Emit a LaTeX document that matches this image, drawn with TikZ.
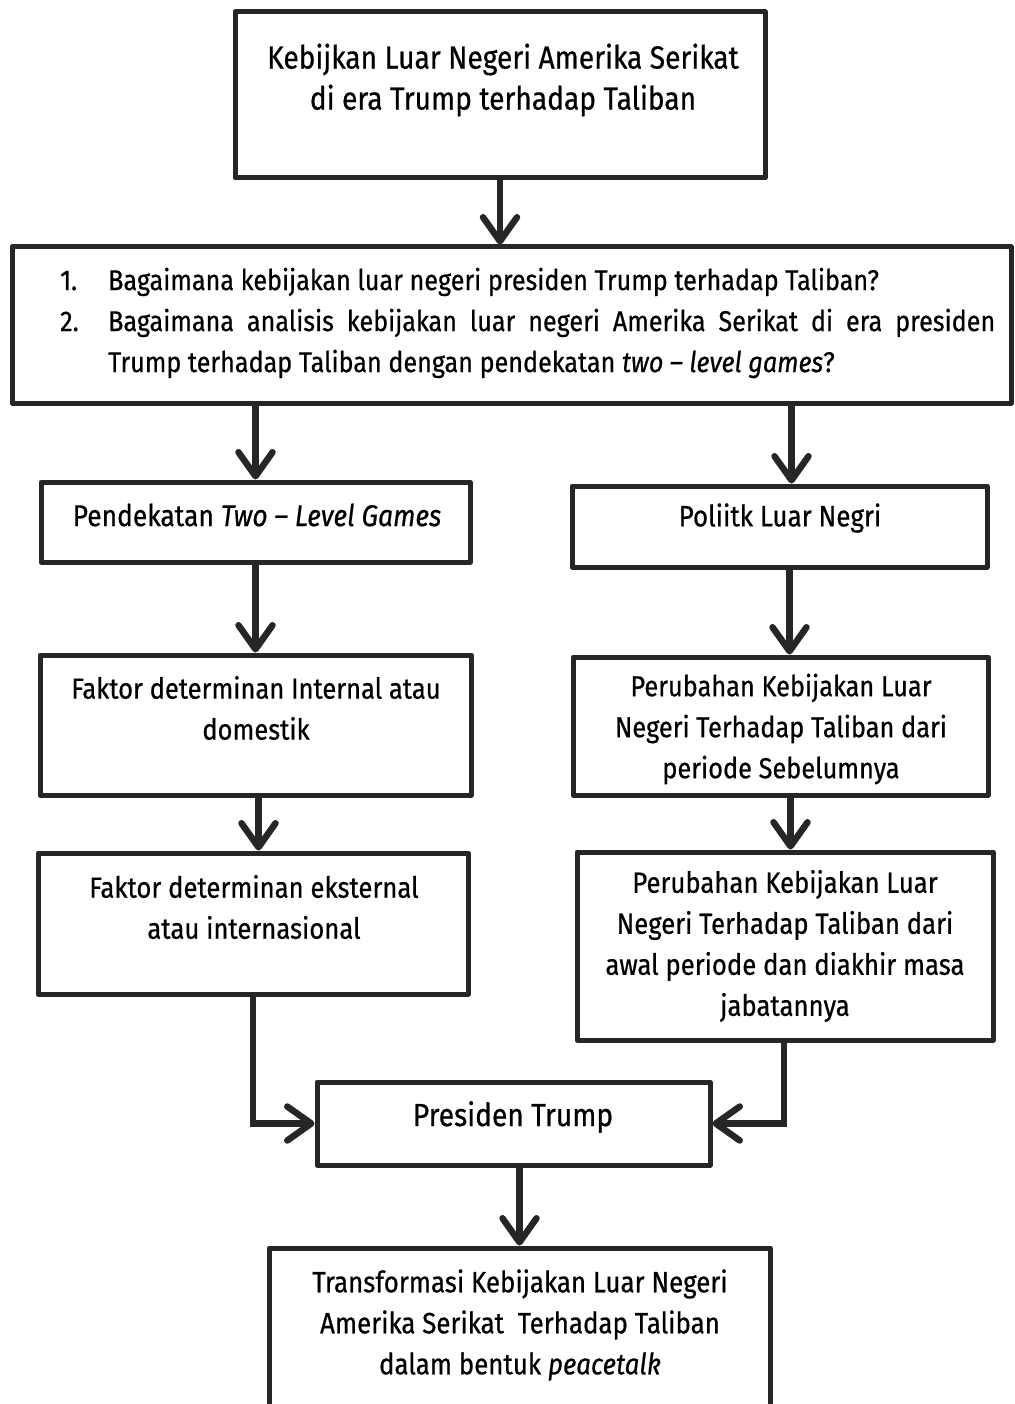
\documentclass[tikz,border=0pt]{standalone}
\usepackage{fontspec}
\setmainfont{Fira Sans}[FakeStretch=0.88,FakeBold=0.6]
\usetikzlibrary{arrows.meta}
\definecolor{lc}{HTML}{262626}
\newcommand{\fsz}[1]{\fontsize{#1}{41}\selectfont}
\tikzset{
  box/.style={draw=lc, line width=5pt, line join=round, inner sep=0pt, fill=white},
  txt/.style={align=center, font=\fsz{30}, inner sep=0pt, text=black},
  arr/.style={draw=lc, line width=6.5pt, -{Straight Barb[length=24pt,width=34pt,round]}},
}
\begin{document}
\begin{tikzpicture}[x=1pt,y=-1pt]
\useasboundingbox[fill=white] (0,0) rectangle (1014,1404);
% boxes
\node[box, minimum width=530pt, minimum height=166pt] (b1) at (500,95) {};
\node[box, minimum width=999pt, minimum height=156pt] (b2) at (511.5,325) {};
\node[box, minimum width=429pt, minimum height=80pt] (b3) at (255.5,522) {};
\node[box, minimum width=415pt, minimum height=81pt] (b4) at (779.5,526.5) {};
\node[box, minimum width=431pt, minimum height=140pt] (b5) at (255.5,725) {};
\node[box, minimum width=415pt, minimum height=138pt] (b6) at (780.5,726) {};
\node[box, minimum width=430pt, minimum height=141pt] (b7) at (253,923.5) {};
\node[box, minimum width=416pt, minimum height=188pt] (b8) at (785,946) {};
\node[box, minimum width=393pt, minimum height=83pt] (b9) at (513.5,1123.5) {};
\node[box, minimum width=501pt, minimum height=180pt] (b10) at (519.5,1338) {};
% texts
\node[txt, font=\fsz{32}] (t1) at (503,80) {Kebijkan Luar Negeri Amerika Serikat\\di era Trump terhadap Taliban};
\node[txt, font=\fsz{28.6}, anchor=west, text width=935pt, align=justify] (t2) at (60,323) {%
\noindent\makebox[48pt][l]{1.}Bagaimana kebijakan luar negeri presiden Trump terhadap Taliban?\par
\hangindent=48pt\hangafter=1\noindent\makebox[48pt][l]{2.}Bagaimana analisis kebijakan luar negeri Amerika Serikat di era presiden\linebreak Trump terhadap Taliban dengan pendekatan \textit{two – level games}?\par};
\node[txt] (t3) at (257,515) {Pendekatan \textit{Two – Level Games}};
\node[txt, font=\fsz{29.5}] (t4) at (780,518) {Poliitk Luar Negri};
\node[txt, font=\fsz{29}] (t5) at (256,708) {Faktor determinan Internal atau\\domestik};
\node[txt, font=\fsz{28.8}] (t6) at (781,729) {Perubahan Kebijakan Luar\\Negeri Terhadap Taliban dari\\periode Sebelumnya};
\node[txt, font=\fsz{29.2}] (t7) at (254,907) {Faktor determinan eksternal\\atau internasional};
\node[txt, font=\fsz{29.2}] (t8) at (785,946) {Perubahan Kebijakan Luar\\Negeri Terhadap Taliban dari\\awal periode dan diakhir masa\\jabatannya};
\node[txt, font=\fsz{32}] (t9) at (513,1117) {Presiden Trump};
\node[txt, font=\fsz{29.4}] (t10) at (520,1325) {Transformasi Kebijakan Luar Negeri\\Amerika Serikat\ \ Terhadap Taliban\\dalam bentuk \textit{peacetalk}};
% connectors
\draw[arr] (b1.south) -- (b1.south |- b2.north);
\draw[arr] (b3.north |- b2.south) -- (b3.north);
\draw[arr] ([xshift=12pt]b4.north |- b2.south) -- ([xshift=12pt]b4.north);
\draw[arr] (b3.south) -- (b3.south |- b5.north);
\draw[arr] ([xshift=10pt]b4.south) -- ([xshift=10pt]b4.south |- b6.north);
\draw[arr] ([xshift=3pt]b5.south) -- ([xshift=3pt]b5.south |- b7.north);
\draw[arr] ([xshift=10pt]b6.south) -- ([xshift=10pt]b6.south |- b8.north);
\draw[arr] (b7.south) |- (b9.west);
\draw[arr] ([xshift=-1pt]b8.south) |- (b9.east);
\draw[arr] (b10.north |- b9.south) -- (b10.north);
\end{tikzpicture}
\end{document}
